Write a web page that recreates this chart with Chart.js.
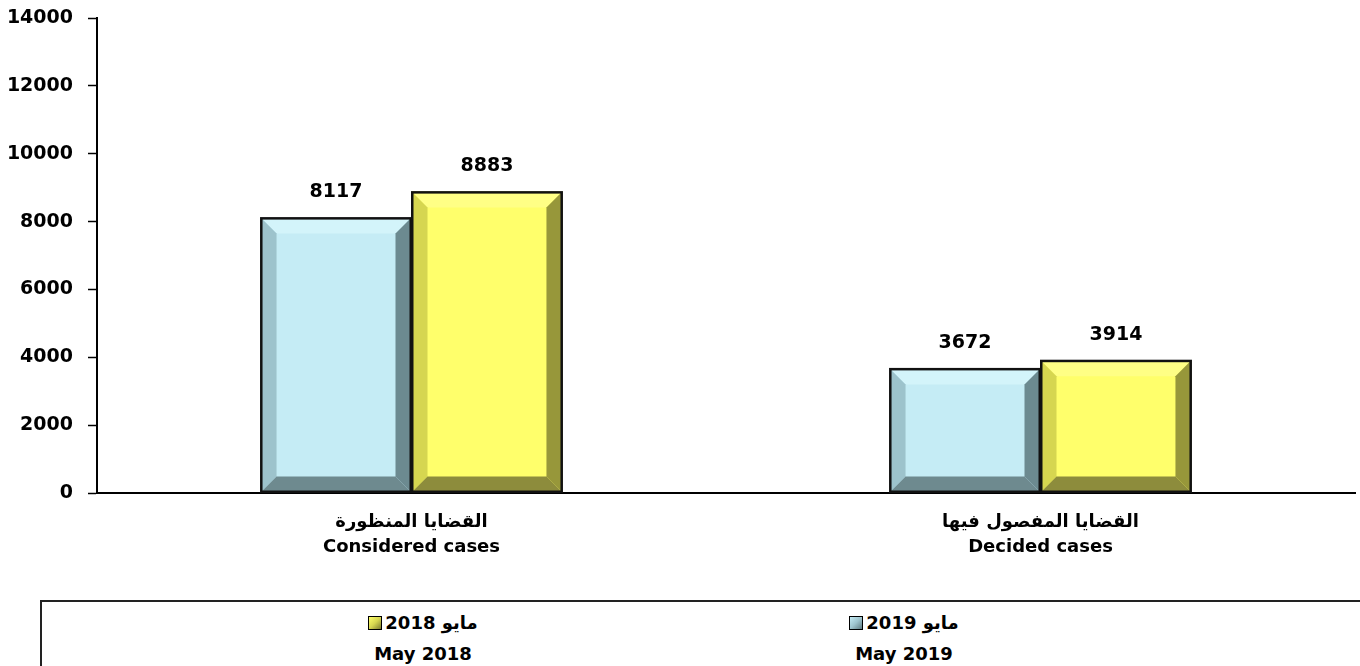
<!DOCTYPE html>
<html>
<head>
<meta charset="utf-8">
<script src="https://cdn.jsdelivr.net/npm/chart.js@4"></script>
<style>
  body { margin: 0; background: #fff; font-family: 'DejaVu Sans', sans-serif; }
  #wrap { position: relative; width: 1360px; height: 666px; overflow: hidden; }
  #chart-box { position: absolute; left: 0; top: 0; width: 1360px; height: 590px; }
  #legend { position: absolute; left: 40px; top: 600px; width: 1400px; height: 100px;
            border-top: 2px solid #222; border-left: 2px solid #222; }
  .item { position: absolute; top: 5px; width: 200px; text-align: center; font-weight: bold;
          font-size: 18px; color: #000; line-height: 31px; }
  .sw { display: inline-block; width: 12px; height: 12px; border: 1px solid #000;
        vertical-align: -1px; margin-right: 3px; }
</style>
</head>
<body>
<div id="wrap">
  <div id="chart-box"><canvas id="grafica"></canvas></div>
  <div id="legend"></div>
</div>
<script>
// Datos
const categorias = [
  ['القضايا المنظورة', 'Considered cases'],
  ['القضايا المفصول فيها', 'Decided cases']
];
const serieNombres = [['مايو 2019', 'May 2019'], ['مايو 2018', 'May 2018']];
const valores2019 = [8117, 3672];
const valores2018 = [8883, 3914];
const ticksY = [0, 2000, 4000, 6000, 8000, 10000, 12000, 14000];

// Colores: cara, arriba, izquierda, derecha, abajo
const tonos = [
  { cara: '#C5ECF5', arriba: '#D3F4FA', izq: '#9DC3CC', der: '#6C8A90', abajo: '#6E8A8F' },
  { cara: '#FFFF6B', arriba: '#FFFF85', izq: '#D6D650', der: '#97973A', abajo: '#8D8C3C' }
];

const fuente = "'DejaVu Sans', sans-serif";

// Biselado de las barras + etiquetas de valor
const biselPlugin = {
  id: 'bisel',
  afterDatasetsDraw(chart) {
    const ctx = chart.ctx;
    chart.data.datasets.forEach((ds, i) => {
      const t = tonos[i];
      chart.getDatasetMeta(i).data.forEach((bar, j) => {
        const l = bar.x - bar.width / 2 + 1, r = bar.x + bar.width / 2 - 1;
        const top = bar.y + 1, bot = bar.base - 1;
        const b = Math.min(15, (bot - top) / 3);
        const poly = (pts, c) => {
          ctx.beginPath();
          ctx.moveTo(pts[0][0], pts[0][1]);
          pts.slice(1).forEach(p => ctx.lineTo(p[0], p[1]));
          ctx.closePath();
          ctx.fillStyle = c;
          ctx.fill();
        };
        ctx.save();
        poly([[l, top], [r, top], [r - b, top + b], [l + b, top + b]], t.arriba);
        poly([[l, top], [l + b, top + b], [l + b, bot - b], [l, bot]], t.izq);
        poly([[r, top], [r, bot], [r - b, bot - b], [r - b, top + b]], t.der);
        poly([[l, bot], [l + b, bot - b], [r - b, bot - b], [r, bot]], t.abajo);
        ctx.strokeStyle = '#111';
        ctx.lineWidth = 2.5;
        ctx.strokeRect(l - 0.25, top - 0.25, r - l + 0.5, bot - top + 0.5);
        ctx.fillStyle = '#000';
        ctx.font = 'bold 19px ' + fuente;
        ctx.textAlign = 'center';
        ctx.textBaseline = 'bottom';
        ctx.fillText(ds.data[j], bar.x, bar.y - 16);
        ctx.restore();
      });
    });
  }
};

new Chart(document.getElementById('grafica'), {
  type: 'bar',
  data: {
    labels: categorias,
    datasets: [
      { label: serieNombres[0][1], data: valores2019, backgroundColor: tonos[0].cara,
        borderWidth: 0, categoryPercentage: 0.48, barPercentage: 1 },
      { label: serieNombres[1][1], data: valores2018, backgroundColor: tonos[1].cara,
        borderWidth: 0, categoryPercentage: 0.48, barPercentage: 1 }
    ]
  },
  options: {
    responsive: true,
    maintainAspectRatio: false,
    animation: false,
    layout: { padding: { top: 18, right: 5, left: 0, bottom: 0 } },
    plugins: { legend: { display: false }, tooltip: { enabled: false } },
    scales: {
      y: {
        min: 0, max: 14000,
        afterFit: s => { s.width = 97; s.paddingTop = 0; s.paddingBottom = 0; },
        afterBuildTicks: s => { s.ticks = ticksY.map(v => ({ value: v })); },
        grid: { drawOnChartArea: false, tickLength: 9, tickColor: '#000', tickWidth: 1.5 },
        border: { color: '#000', width: 2 },
        ticks: { color: '#000', padding: 15, callback: v => String(v),
                 font: { family: fuente, size: 19, weight: 'bold' } }
      },
      x: {
        afterFit: s => { s.height = 97; },
        grid: { display: false },
        border: { color: '#000', width: 2 },
        ticks: { color: '#000', padding: 9, font: { family: fuente, size: 18, weight: 'bold', lineHeight: 1.4 } }
      }
    }
  },
  plugins: [biselPlugin]
});

// Leyenda en HTML (orden: 2018, 2019)
const leyenda = document.getElementById('legend');
const posiciones = [762, 281];
const gradientes = [
  'linear-gradient(135deg, #C5ECF5 0%, #9DC3CC 50%, #5F7A80 100%)',
  'linear-gradient(135deg, #FFFF6B 0%, #D6D650 50%, #7A7A30 100%)'
];
[1, 0].forEach(i => {
  const d = document.createElement('div');
  d.className = 'item';
  d.style.left = posiciones[i] + 'px';
  d.innerHTML = '<div><span class="sw" style="background:' + gradientes[i] + '"></span>' +
    '<span dir="rtl">' + serieNombres[i][0] + '</span></div><div>' + serieNombres[i][1] + '</div>';
  leyenda.appendChild(d);
});
</script>
</body>
</html>
